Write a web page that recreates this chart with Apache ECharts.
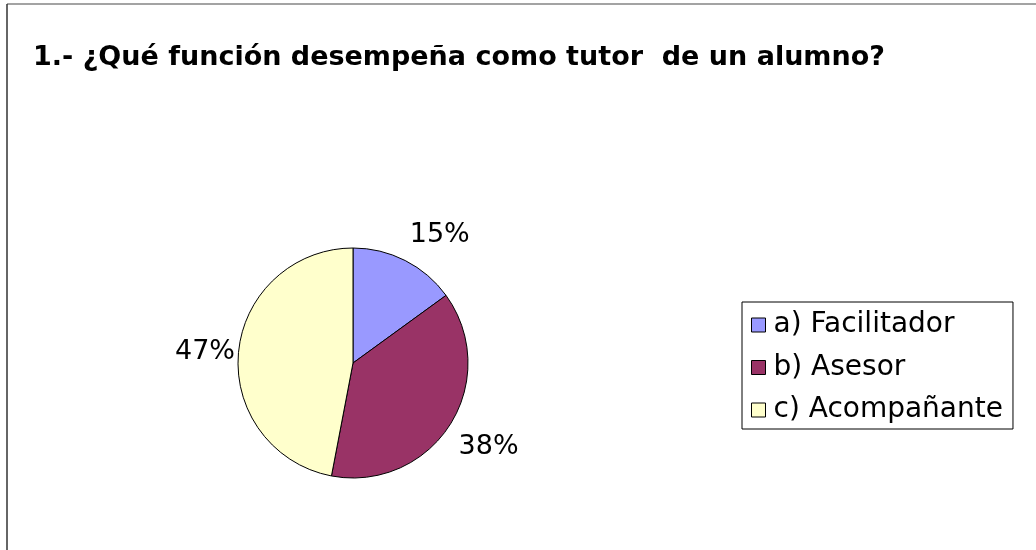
<!DOCTYPE html>
<html>
<head>
<meta charset="utf-8">
<style>
  html, body { margin: 0; padding: 0; background: #ffffff; }
  #chart { width: 1036px; height: 550px; }
</style>
<script src="https://cdn.jsdelivr.net/npm/echarts@6/dist/echarts.min.js"></script>
</head>
<body>
<div id="chart"></div>
<script>
// Survey answers, question 1 (percent of respondents)
const titleText = '1.- ¿Qué función desempeña como tutor  de un alumno?';
const categories = ['a) Facilitador', 'b) Asesor', 'c) Acompañante'];
const percents = [15, 38, 47];
const sliceColors = ['#9999FF', '#993366', '#FFFFCC'];

const FONT = '"DejaVu Sans", "Liberation Sans", Arial, sans-serif';
const PIE_CENTER = [353, 363];
const PIE_RADIUS = 115;
const LABEL_GAP = 10;      // labels above / below the pie
const LABEL_GAP_SIDE = 3.5; // labels beside the pie

const chart = echarts.init(document.getElementById('chart'), null, { renderer: 'canvas' });

const total = percents.reduce((a, b) => a + b, 0);

// percentage labels: anchored just outside the rim on the slice's middle
// angle, with the text box hanging away from the pie
function labelPlacement(i) {
  let before = 0;
  for (let k = 0; k < i; k++) before += percents[k];
  const mid = (before + percents[i] / 2) / total * Math.PI * 2;
  const ux = Math.sin(mid);
  const uy = -Math.cos(mid);
  const side = Math.abs(uy) <= 0.3;
  const r = PIE_RADIUS + (side ? LABEL_GAP_SIDE : LABEL_GAP);
  return {
    x: PIE_CENTER[0] + r * ux,
    y: PIE_CENTER[1] + r * uy,
    align: ux >= 0 ? 'left' : 'right',
    verticalAlign: side ? 'middle' : (uy < 0 ? 'bottom' : 'top')
  };
}

const option = {
  backgroundColor: '#ffffff',
  animation: false,
  title: {
    text: titleText,
    left: 33,
    top: 44,
    padding: 0,
    textStyle: { fontFamily: FONT, fontSize: 27, fontWeight: 'bold', color: '#000000' }
  },
  legend: {
    orient: 'vertical',
    left: 742,
    top: 302,
    padding: [9, 10, 5, 9],
    itemGap: 14.5,
    itemWidth: 14,
    itemHeight: 14,
    icon: 'rect',
    borderColor: '#000000',
    borderWidth: 1,
    borderRadius: 0,
    itemStyle: { borderColor: '#000000', borderWidth: 1 },
    textStyle: { fontFamily: FONT, fontSize: 28, color: '#000000', padding: [0, 0, 0, 3] },
    data: categories
  },
  graphic: [
    { type: 'line', shape: { x1: 7, y1: 4, x2: 1036, y2: 4 }, style: { stroke: '#858585', lineWidth: 1.5 } },
    { type: 'line', shape: { x1: 7, y1: 4, x2: 7, y2: 550 }, style: { stroke: '#333333', lineWidth: 1.5 } }
  ],
  series: [{
    type: 'pie',
    center: PIE_CENTER,
    radius: PIE_RADIUS,
    startAngle: 90,
    clockwise: true,
    silent: true,
    itemStyle: { borderColor: '#000000', borderWidth: 1 },
    label: {
      show: true,
      position: 'outside',
      formatter: '{c}%',
      fontFamily: FONT,
      fontSize: 27,
      lineHeight: 34,
      color: '#000000'
    },
    labelLine: { show: false },
    labelLayout: function (params) {
      return labelPlacement(params.dataIndex);
    },
    data: categories.map((name, i) => ({
      name: name,
      value: percents[i],
      itemStyle: { color: sliceColors[i] }
    }))
  }]
};

chart.setOption(option);
</script>
</body>
</html>
